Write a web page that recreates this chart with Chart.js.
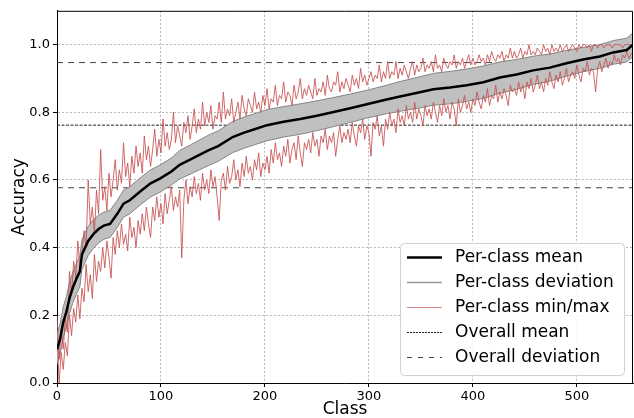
<!DOCTYPE html>
<html>
<head>
<meta charset="utf-8">
<script src="https://cdn.jsdelivr.net/npm/chart.js@4.4.0/dist/chart.umd.min.js"></script>
<style>
  html, body { margin: 0; padding: 0; background: #fff; }
  #wrap { width: 634px; height: 418px; }
</style>
</head>
<body>
<div id="wrap"><canvas id="chart" width="634" height="418"></canvas></div>
<script>
// per-class mean accuracy, read at some classes along the curve
const meanClasses = [0, 3, 6, 9, 12, 15, 19, 22, 24, 27, 30, 35, 40, 45, 51, 58, 64, 70, 80, 90,
  99, 110, 118, 128, 137, 146, 155, 169, 180, 190, 202, 218, 234, 250, 265, 282, 298, 317, 330, 349,
  362, 378, 394, 410, 426, 442, 458, 474, 490, 506, 522, 535, 548, 554];
const meanAcc = [0.10, 0.13, 0.18, 0.21, 0.25, 0.28, 0.31, 0.33, 0.38, 0.40, 0.42, 0.44, 0.455, 0.465, 0.47, 0.50, 0.53, 0.54, 0.566, 0.59,
  0.604, 0.625, 0.645, 0.66, 0.674, 0.688, 0.70, 0.727, 0.74, 0.75, 0.762, 0.772, 0.78, 0.79, 0.80, 0.812, 0.824, 0.838, 0.847, 0.859,
  0.868, 0.873, 0.88, 0.889, 0.903, 0.912, 0.924, 0.932, 0.945, 0.956, 0.965, 0.977, 0.984, 1.0];
const meanDev = [0.045, 0.045, 0.045, 0.045, 0.045, 0.045, 0.045, 0.045, 0.044, 0.044, 0.043, 0.042, 0.041, 0.04, 0.04, 0.04, 0.04, 0.04, 0.04, 0.04,
  0.04, 0.04, 0.042, 0.043, 0.044, 0.045, 0.045, 0.046, 0.046, 0.046, 0.046, 0.045, 0.045, 0.044, 0.043, 0.042, 0.041, 0.042, 0.044, 0.046,
  0.047, 0.048, 0.048, 0.048, 0.046, 0.044, 0.042, 0.04, 0.038, 0.036, 0.035, 0.035, 0.035, 0.035];

// per-class max / min, read every 2nd class
const classStep = 2;
const maxAcc = [
  0.20, 0.07, 0.16, 0.10, 0.19, 0.15, 0.33, 0.26, 0.36, 0.31, 0.42, 0.34, 0.38, 0.45, 0.40, 0.60, 0.47, 0.52, 0.44, 0.57,
  0.50, 0.69, 0.54, 0.58, 0.51, 0.62, 0.55, 0.60, 0.66, 0.57, 0.63, 0.59, 0.71, 0.61, 0.65, 0.58, 0.67, 0.62, 0.70, 0.64,
  0.68, 0.62, 0.73, 0.66, 0.70, 0.64, 0.69, 0.75, 0.67, 0.72, 0.68, 0.78, 0.70, 0.74, 0.69, 0.72, 0.80, 0.71, 0.76, 0.73,
  0.70, 0.77, 0.74, 0.79, 0.72, 0.76, 0.81, 0.74, 0.78, 0.75, 0.83, 0.76, 0.80, 0.77, 0.82, 0.75, 0.79, 0.78, 0.83, 0.77,
  0.86, 0.78, 0.81, 0.79, 0.84, 0.77, 0.80, 0.83, 0.78, 0.85, 0.81, 0.79, 0.84, 0.82, 0.80, 0.86, 0.81, 0.83, 0.80, 0.85,
  0.82, 0.87, 0.81, 0.84, 0.83, 0.88, 0.82, 0.85, 0.84, 0.89, 0.83, 0.86, 0.85, 0.82, 0.88, 0.84, 0.86, 0.90, 0.84, 0.87,
  0.85, 0.88, 0.86, 0.84, 0.90, 0.85, 0.87, 0.86, 0.89, 0.85, 0.91, 0.87, 0.86, 0.89, 0.88, 0.92, 0.86, 0.89, 0.87, 0.90,
  0.88, 0.86, 0.91, 0.88, 0.90, 0.87, 0.93, 0.89, 0.91, 0.88, 0.90, 0.92, 0.89, 0.91, 0.90, 0.94, 0.89, 0.92, 0.90, 0.95,
  0.90, 0.92, 0.91, 0.95, 0.90, 0.93, 0.91, 0.94, 0.92, 0.90, 0.93, 0.95, 0.91, 0.94, 0.92, 0.93, 0.96, 0.92, 0.94, 0.93,
  0.95, 0.92, 0.97, 0.93, 0.94, 0.92, 0.96, 0.94, 0.93, 0.95, 0.94, 0.97, 0.93, 0.95, 0.94, 0.96, 0.93, 0.95, 0.97, 0.94,
  0.96, 0.94, 0.95, 0.97, 0.95, 0.96, 0.94, 0.97, 0.95, 0.98, 0.96, 0.95, 0.97, 0.96, 0.98, 0.95, 0.97, 0.96, 0.99, 0.96,
  0.98, 0.96, 0.97, 0.99, 0.96, 0.98, 0.97, 1.00, 0.97, 0.98, 0.97, 0.99, 0.98, 0.97, 1.00, 0.98, 0.99, 0.97, 1.00, 0.98,
  0.99, 0.98, 1.00, 0.98, 0.99, 1.00, 0.98, 0.99, 1.00, 0.99, 0.98, 1.00, 0.99, 1.00, 1.00, 0.99, 1.00, 0.98, 1.00, 1.00,
  0.99, 1.00, 1.00, 0.99, 1.00, 1.00, 1.00, 0.99, 1.00, 1.00, 1.00, 1.00, 0.99, 1.00, 1.00, 1.00, 1.00, 1.00];
const minAcc = [
  0.15, 0.00, 0.09, 0.04, 0.12, 0.08, 0.20, 0.14, 0.22, 0.18, 0.26, 0.19, 0.28, 0.24, 0.35, 0.27, 0.32, 0.25, 0.38, 0.30,
  0.36, 0.33, 0.40, 0.34, 0.42, 0.37, 0.31, 0.43, 0.38, 0.45, 0.40, 0.47, 0.41, 0.44, 0.39, 0.49, 0.43, 0.46, 0.40, 0.48,
  0.44, 0.50, 0.45, 0.52, 0.47, 0.43, 0.52, 0.48, 0.55, 0.49, 0.53, 0.47, 0.56, 0.50, 0.54, 0.58, 0.51, 0.55, 0.52, 0.57,
  0.37, 0.54, 0.60, 0.53, 0.58, 0.55, 0.61, 0.56, 0.59, 0.54, 0.62, 0.57, 0.60, 0.56, 0.63, 0.58, 0.61, 0.55, 0.48, 0.60,
  0.62, 0.57, 0.64, 0.59, 0.61, 0.66, 0.60, 0.63, 0.58, 0.65, 0.61, 0.67, 0.62, 0.64, 0.60, 0.66, 0.63, 0.68, 0.61, 0.65,
  0.63, 0.67, 0.62, 0.69, 0.65, 0.71, 0.66, 0.68, 0.64, 0.70, 0.67, 0.72, 0.65, 0.69, 0.71, 0.66, 0.73, 0.68, 0.64, 0.71,
  0.69, 0.72, 0.68, 0.74, 0.70, 0.72, 0.67, 0.73, 0.71, 0.75, 0.69, 0.73, 0.71, 0.74, 0.67, 0.72, 0.76, 0.71, 0.74, 0.72,
  0.75, 0.71, 0.77, 0.73, 0.70, 0.76, 0.74, 0.78, 0.72, 0.76, 0.74, 0.67, 0.77, 0.75, 0.79, 0.73, 0.76, 0.70, 0.78, 0.75,
  0.80, 0.76, 0.78, 0.74, 0.81, 0.77, 0.79, 0.76, 0.82, 0.78, 0.80, 0.77, 0.83, 0.78, 0.81, 0.79, 0.76, 0.82, 0.79, 0.81,
  0.78, 0.83, 0.80, 0.77, 0.82, 0.79, 0.84, 0.80, 0.82, 0.78, 0.83, 0.81, 0.76, 0.84, 0.80, 0.82, 0.85, 0.81, 0.83, 0.80,
  0.84, 0.82, 0.86, 0.83, 0.81, 0.85, 0.83, 0.87, 0.82, 0.85, 0.84, 0.88, 0.83, 0.86, 0.84, 0.87, 0.85, 0.82, 0.88, 0.86,
  0.87, 0.85, 0.89, 0.86, 0.88, 0.84, 0.89, 0.87, 0.90, 0.86, 0.88, 0.91, 0.87, 0.89, 0.86, 0.90, 0.88, 0.92, 0.89, 0.87,
  0.91, 0.89, 0.92, 0.88, 0.90, 0.93, 0.89, 0.91, 0.92, 0.90, 0.94, 0.91, 0.89, 0.93, 0.92, 0.95, 0.91, 0.93, 0.92, 0.86,
  0.93, 0.95, 0.92, 0.94, 0.96, 0.93, 0.95, 0.94, 0.97, 0.95, 0.96, 0.94, 0.97, 0.96, 0.98, 0.96, 0.97, 0.98];

const overallMean = 0.762;
const overallDev = 0.185;
const classMax = 554;
const xTicks = [0, 100, 200, 300, 400, 500];
const yTicks = [0, 0.2, 0.4, 0.6, 0.8, 1.0];

const FONT = '"DejaVu Sans", sans-serif';
const RED = 'rgba(200, 80, 80, 0.85)';
const BAND = '#c0c0c0';
const BAND_EDGE = '#858585';

const pts = (xs, ys) => ys.map((y, i) => ({ x: xs[i], y }));
const stepClasses = maxAcc.map((_, i) => i * classStep);
const hline = y => [{ x: 0, y }, { x: classMax, y }];

const base = { pointRadius: 0, borderWidth: 1, tension: 0, fill: false };

const datasets = [
  { ...base, label: 'Per-class mean', data: pts(meanClasses, meanAcc), borderColor: '#000', borderWidth: 2.5, order: 0 },
  { ...base, label: 'Per-class deviation', data: pts(meanClasses, meanAcc.map((m, i) => m + meanDev[i])),
    borderColor: BAND_EDGE, order: 3 },
  { ...base, label: 'dev-low', data: pts(meanClasses, meanAcc.map((m, i) => m - meanDev[i])),
    borderColor: BAND_EDGE, backgroundColor: BAND, fill: '-1', order: 3 },
  { ...base, label: 'Per-class min/max', data: pts(stepClasses, maxAcc), borderColor: RED, order: 1 },
  { ...base, label: 'min', data: pts(stepClasses, minAcc), borderColor: RED, order: 1 },
  { ...base, label: 'Overall mean', data: hline(overallMean), borderColor: '#222', borderDash: [3, 1.5], order: 4 },
  { ...base, label: 'Overall deviation', data: hline(overallMean + overallDev), borderColor: '#444', borderDash: [6, 5], order: 4 },
  { ...base, label: 'dev2', data: hline(overallMean - overallDev), borderColor: '#444', borderDash: [6, 5], order: 4 },
];

const legendItems = [
  { text: 'Per-class mean', color: '#000', width: 2.5, dash: [] },
  { text: 'Per-class deviation', color: '#999', width: 1.5, dash: [] },
  { text: 'Per-class min/max', color: 'rgba(200, 80, 80, 0.7)', width: 1.2, dash: [] },
  { text: 'Overall mean', color: '#222', width: 1, dash: [2, 1] },
  { text: 'Overall deviation', color: '#444', width: 1, dash: [5, 6] },
];

const frameAndLegend = {
  id: 'frameAndLegend',
  afterDraw(chart) {
    const { ctx, chartArea: a } = chart;
    ctx.save();
    ctx.strokeStyle = '#000';
    ctx.lineWidth = 1;
    ctx.beginPath();
    ctx.moveTo(a.left, a.top + 0.5);
    ctx.lineTo(a.right - 0.5, a.top + 0.5);
    ctx.lineTo(a.right - 0.5, a.bottom);
    ctx.stroke();

    // legend box, lower right
    const bx = 400, by = 243, bw = 224, bh = 132;
    ctx.beginPath();
    ctx.roundRect(bx + 0.5, by + 0.5, bw, bh, 4);
    ctx.fillStyle = 'rgba(255,255,255,0.85)';
    ctx.fill();
    ctx.strokeStyle = '#d0d0d0';
    ctx.stroke();

    ctx.font = '17px ' + FONT;
    ctx.textBaseline = 'middle';
    legendItems.forEach((it, i) => {
      const y = by + 14 + i * 25;
      ctx.beginPath();
      ctx.setLineDash(it.dash);
      ctx.strokeStyle = it.color;
      ctx.lineWidth = it.width;
      ctx.moveTo(bx + 7, y + 0.5);
      ctx.lineTo(bx + 42, y + 0.5);
      ctx.stroke();
      ctx.setLineDash([]);
      ctx.fillStyle = '#000';
      ctx.fillText(it.text, bx + 55, y + 1);
    });
    ctx.restore();
  }
};

new Chart(document.getElementById('chart'), {
  type: 'line',
  data: { datasets },
  options: {
    responsive: false,
    animation: false,
    layout: { padding: { top: 8, right: 1, left: 0, bottom: 0 } },
    plugins: { legend: { display: false }, tooltip: { enabled: false } },
    scales: {
      x: {
        type: 'linear',
        min: 0,
        max: classMax,
        afterBuildTicks: s => { s.ticks = xTicks.map(v => ({ value: v })); },
        afterFit: s => { s.height = 35; },
        ticks: { color: '#000', font: { family: FONT, size: 13 }, padding: 2, maxRotation: 0,
          callback: v => String(v) },
        grid: { color: 'rgba(0,0,0,0.35)', lineWidth: 0.8, tickLength: 4, tickColor: '#000', tickWidth: 1 },
        border: { display: true, color: '#000', width: 1, dash: [2, 2] },
        title: { display: true, text: 'Class', color: '#000', font: { family: FONT, size: 17, lineHeight: 1 },
          padding: { top: 0, bottom: 0 } }
      },
      y: {
        type: 'linear',
        min: 0,
        max: 1.1,
        afterBuildTicks: s => { s.ticks = yTicks.map(v => ({ value: v })); },
        afterFit: s => { s.width = 57; },
        ticks: { color: '#000', font: { family: FONT, size: 13 }, padding: 3,
          callback: v => v.toFixed(1) },
        grid: { color: 'rgba(0,0,0,0.35)', lineWidth: 0.8, tickLength: 4, tickColor: '#000', tickWidth: 1 },
        border: { display: true, color: '#000', width: 1, dash: [2, 2] },
        title: { display: true, text: 'Accuracy', color: '#000', font: { family: FONT, size: 17, lineHeight: 1 },
          padding: { top: 11, bottom: 0 } }
      }
    }
  },
  plugins: [frameAndLegend]
});
</script>
</body>
</html>
